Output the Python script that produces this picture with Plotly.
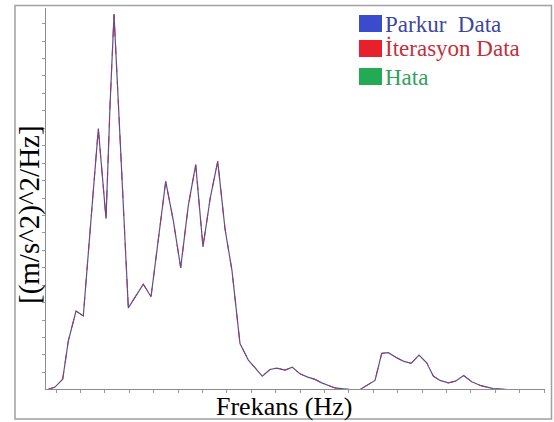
import plotly.graph_objects as go

# ---- data ----
frekans = [3.09, 4.80, 6.37, 7.52, 9.10, 10.59, 13.67, 15.25, 16.07, 16.89,
           19.82, 21.54, 22.89, 24.47, 27.48, 29.04, 30.55, 32.11, 33.63, 35.12,
           36.62, 38.14, 39.63, 41.07, 42.70, 44.41, 47.27, 48.85, 50.23, 51.93,
           53.42, 55.00, 56.58, 58.07, 59.45, 62.17, 65.24, 67.30, 70.37, 71.74,
           73.09, 74.81, 76.17, 77.75, 79.39, 80.96, 82.31, 83.69, 85.39, 86.86,
           88.54, 90.18, 92.09, 94.61, 97.52, 100.29, 103.15]
parkur = [0.000, 0.016, 0.061, 0.280, 0.452, 0.424, 1.498, 0.981, 1.630, 2.153,
          0.470, 0.550, 0.606, 0.534, 1.195, 0.970, 0.701, 1.056, 1.291, 0.820,
          1.103, 1.310, 0.924, 0.682, 0.266, 0.171, 0.079, 0.117, 0.125, 0.113,
          0.130, 0.092, 0.073, 0.060, 0.040, 0.011, 0.002, 0.002, 0.054, 0.209,
          0.213, 0.184, 0.165, 0.152, 0.199, 0.155, 0.079, 0.054, 0.040, 0.050,
          0.082, 0.047, 0.024, 0.007, 0.002, 0.002, 0.000]
iterasyon = list(parkur)
hata = [round(a - b, 4) for a, b in zip(parkur, iterasyon)]

legend_names = ["Parkur  Data", "İterasyon Data", "Hata"]
x_title = "Frekans (Hz)"
y_title = "[(m/s^2)^2/Hz]"

# ---- layout geometry (pixels) ----
W, H = 554, 422
ML, MR, MT, MB = 46, 9, 8, 33
PW, PH = W - ML - MR, H - MT - MB


def px_x(px):
    return (px - ML) / PW


def px_y(py):
    return (H - MB - py) / PH


SERIF = "Liberation Serif, Times New Roman, DejaVu Serif, serif"

fig = go.Figure()
fig.add_trace(go.Scatter(x=frekans, y=hata, mode="lines", name=legend_names[2],
                         line=dict(color="#22aa55", width=1), showlegend=False))
fig.add_trace(go.Scatter(x=frekans, y=parkur, mode="lines", name=legend_names[0],
                         line=dict(color="#5a4f92", width=1.2), showlegend=False))
fig.add_trace(go.Scatter(x=frekans, y=iterasyon, mode="lines", name=legend_names[1],
                         line=dict(color="#9a3a66", width=1, dash="dash"), showlegend=False))

axis_common = dict(showgrid=False, zeroline=False, showline=True, linecolor="#8c8c8c",
                   linewidth=1, ticks="outside", ticklen=3, tickcolor="#999999",
                   tickwidth=1, showticklabels=False, layer="above traces")
fig.update_xaxes(range=[2.951, 105.2], tick0=5, dtick=5, **axis_common)
fig.update_yaxes(range=[0.005, PH / 174], tick0=0, dtick=0.1, **axis_common)

shapes = [dict(type="rect", xref="paper", yref="paper",
               x0=px_x(15), x1=px_x(551.5), y0=px_y(419), y1=px_y(5.5),
               line=dict(color="#a0a0a0", width=1.5), fillcolor="rgba(0,0,0,0)")]
sq_colors = ["#3a4ccc", "#e8202c", "#22aa55"]
txt_colors = ["#3d46a0", "#c0303c", "#30a060"]
sq_tops = [15, 40, 68]
annotations = []
for name, sc, tc, top in zip(legend_names, sq_colors, txt_colors, sq_tops):
    shapes.append(dict(type="rect", xref="paper", yref="paper",
                       x0=px_x(359), x1=px_x(382), y0=px_y(top + 17), y1=px_y(top),
                       line=dict(width=0), fillcolor=sc))
    annotations.append(dict(text=name, xref="paper", yref="paper",
                            x=px_x(383), y=px_y(top + 9), xanchor="left", yanchor="middle",
                            showarrow=False, font=dict(family=SERIF, size=23, color=tc)))

annotations.append(dict(text=x_title, xref="paper", yref="paper", x=px_x(284), y=px_y(406),
                        xanchor="center", yanchor="middle", showarrow=False,
                        font=dict(family=SERIF, size=26, color="#000000")))
annotations.append(dict(text=y_title, xref="paper", yref="paper", x=px_x(30), y=px_y(215),
                        xanchor="center", yanchor="middle", showarrow=False, textangle=-90,
                        font=dict(family=SERIF, size=29, color="#000000")))

fig.update_layout(width=W, height=H, margin=dict(l=ML, r=MR, t=MT, b=MB),
                  paper_bgcolor="white", plot_bgcolor="white", showlegend=False,
                  shapes=shapes, annotations=annotations)

fig.write_html("out.html")
